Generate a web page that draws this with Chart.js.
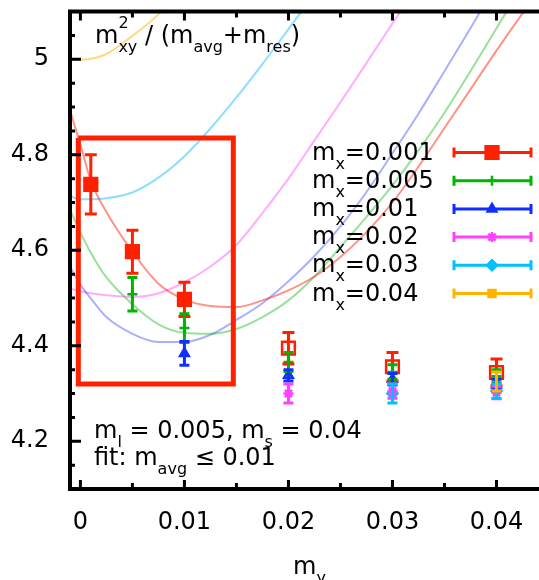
<!DOCTYPE html>
<html>
<head>
<meta charset="utf-8">
<style>
  html, body { margin: 0; padding: 0; background: #fff; overflow: hidden; }
  canvas { display: block; }
</style>
</head>
<body>
<canvas id="c" width="560" height="580"></canvas>
<script src="https://cdn.jsdelivr.net/npm/chart.js@4.4.0/dist/chart.umd.min.js"></script>
<script>
// m_y values where measurements exist (fit uses m_avg <= 0.01)
const myValues = [0.001, 0.005, 0.01, 0.02, 0.03, 0.04];
const fitLimit = 0.01;

// series: one per m_x
const seriesNames = ['0.001', '0.005', '0.01', '0.02', '0.03', '0.04'];
const seriesMx = [0.001, 0.005, 0.01, 0.02, 0.03, 0.04];
const seriesColors = ['#ff2000', '#00b400', '#1030ff', '#ff40ff', '#00c0ff', '#ffb400'];
const curveColors = ['rgba(255,40,20,0.5)', 'rgba(0,180,0,0.4)', 'rgba(40,60,255,0.4)',
                     'rgba(255,70,255,0.45)', 'rgba(0,180,255,0.45)', 'rgba(255,180,0,0.5)'];
const seriesStyles = ['rect', 'cross', 'triangle', 'star', 'rectRot', 'rect'];
const seriesRadius = [9, 5, 5, 5, 5, 5];

// measured values and errors (only m_y >= m_x)
const val001 = [4.738, 4.597, 4.497, 4.395, 4.356, 4.344];
const err001 = [0.062, 0.045, 0.036, 0.033, 0.030, 0.028];
const val005 = [4.508, 4.437, 4.366, 4.345, 4.336];
const err005 = [0.035, 0.030, 0.020, 0.015, 0.014];
const val01 = [4.384, 4.338, 4.330, 4.318];
const err01 = [0.025, 0.012, 0.012, 0.012];
const val02 = [4.300, 4.305, 4.302];
const err02 = [0.020, 0.015, 0.013];
const val03 = [4.300, 4.305];
const err03 = [0.020, 0.015];
const val04 = [4.325];
const err04 = [0.020];

const curveMy = [-0.001, 0, 0.001, 0.0025, 0.005, 0.0075, 0.01, 0.0125, 0.015, 0.0175, 0.02,
                 0.0225, 0.025, 0.0275, 0.03, 0.0325, 0.035, 0.0375, 0.04, 0.0425, 0.045];
const fit001 = [4.893, 4.821, 4.746, 4.68, 4.597, 4.53, 4.497, 4.483, 4.481, 4.495, 4.516,
                4.545, 4.586, 4.638, 4.70, 4.775, 4.856, 4.937, 5.018, 5.096, 5.175];
const fit005 = [4.685, 4.637, 4.595, 4.543, 4.487, 4.445, 4.427, 4.425, 4.435, 4.46, 4.495,
                4.545, 4.607, 4.67, 4.736, 4.809, 4.888, 4.975, 5.065, 5.154];
const fit01 = [4.566, 4.528, 4.499, 4.46, 4.425, 4.408, 4.408, 4.423, 4.454, 4.489, 4.535,
               4.588, 4.65, 4.722, 4.803, 4.886, 4.975, 5.065, 5.158];
const fit02 = [4.52, 4.514, 4.51, 4.506, 4.502, 4.51, 4.533, 4.566, 4.611, 4.678, 4.75,
               4.83, 4.91, 4.992, 5.075, 5.155];
const fit03 = [4.713, 4.707, 4.707, 4.709, 4.721, 4.752, 4.797, 4.855, 4.92, 4.99, 5.063, 5.137];
const fit04 = [4.999, 4.999, 5.001, 5.011, 5.049, 5.094, 5.156];

// highlighted fit region
const boxX = [-0.0002, 0.0147, 0.0147, -0.0002, -0.0002];
const boxY = [4.835, 4.835, 4.32, 4.32, 4.835];

const xTicks = [0, 0.01, 0.02, 0.03, 0.04];
const xTickLabels = ['0', '0.01', '0.02', '0.03', '0.04'];
const yTicks = [4.2, 4.4, 4.6, 4.8, 5.0];
const yTickLabels = ['4.2', '4.4', '4.6', '4.8', '5'];

const values = [val001, val005, val01, val02, val03, val04];
const errors = [err001, err005, err01, err02, err03, err04];
const fits = [fit001, fit005, fit01, fit02, fit03, fit04];

const datasets = [];
seriesNames.forEach((name, k) => {
  const xs = myValues.filter(v => v >= seriesMx[k] - 1e-9);
  datasets.push({
    label: 'm_x=' + name,
    data: xs.map((x, i) => ({ x: x, y: values[k][i] })),
    errs: errors[k],
    cap: k === 0 ? 6 : 5,
    showLine: false,
    pointStyle: seriesStyles[k],
    pointRadius: seriesRadius[k],
    pointBorderWidth: 2.5,
    pointBorderColor: seriesColors[k],
    pointBackgroundColor: xs.map(x => x <= fitLimit + 1e-9 ? seriesColors[k] : 'rgba(0,0,0,0)'),
    borderColor: seriesColors[k],
    order: 1
  });
});
fits.forEach((f, k) => {
  datasets.push({
    label: 'fit ' + seriesNames[k],
    data: f.map((y, i) => ({ x: curveMy[i], y: y })),
    borderColor: curveColors[k],
    borderWidth: 2,
    pointRadius: 0,
    cubicInterpolationMode: 'monotone',
    order: 3
  });
});
datasets.push({
  label: 'box',
  data: boxX.map((x, i) => ({ x: x, y: boxY[i] })),
  borderColor: '#ff2000',
  borderWidth: 5,
  borderJoinStyle: 'miter',
  pointRadius: 0,
  tension: 0,
  order: 2
});

const FONT = '"DejaVu Sans"';
const big = '24px ' + FONT, small = '16px ' + FONT;

function drawRich(ctx, x, y, parts) {
  let cx = x;
  for (const p of parts) {
    if (typeof p === 'string') {
      ctx.font = big;
      ctx.fillText(p, cx, y);
      cx += ctx.measureText(p).width;
    } else {
      ctx.font = small;
      let w = 0;
      if (p.sup) { ctx.fillText(p.sup, cx, y - 15); w = Math.max(w, ctx.measureText(p.sup).width); }
      if (p.sub) { ctx.fillText(p.sub, cx, y + 9); w = Math.max(w, ctx.measureText(p.sub).width); }
      cx += w;
    }
  }
}

const decor = {
  id: 'decor',
  afterDatasetsDraw(chart) {
    const ctx = chart.ctx, ys = chart.scales.y;
    chart.data.datasets.forEach((ds, di) => {
      if (!ds.errs) return;
      const meta = chart.getDatasetMeta(di);
      ctx.save();
      ctx.strokeStyle = ds.borderColor;
      ctx.lineWidth = 3;
      meta.data.forEach((pt, i) => {
        const top = ys.getPixelForValue(ds.data[i].y + ds.errs[i]);
        const bot = ys.getPixelForValue(ds.data[i].y - ds.errs[i]);
        ctx.beginPath();
        ctx.moveTo(pt.x, top); ctx.lineTo(pt.x, bot);
        ctx.moveTo(pt.x - ds.cap, top); ctx.lineTo(pt.x + ds.cap, top);
        ctx.moveTo(pt.x - ds.cap, bot); ctx.lineTo(pt.x + ds.cap, bot);
        ctx.stroke();
      });
      ctx.restore();
    });
  },
  afterDraw(chart) {
    const ctx = chart.ctx, a = chart.chartArea;
    const xs = chart.scales.x, ys = chart.scales.y;
    ctx.save();
    // frame
    ctx.strokeStyle = '#000';
    ctx.lineWidth = 4;
    ctx.strokeRect(a.left, a.top, a.right - a.left, a.bottom - a.top);
    // inward ticks
    ctx.lineWidth = 3;
    ctx.beginPath();
    for (let i = 0; i <= 9; i++) {
      const px = xs.getPixelForValue(i * 0.005);
      const len = i % 2 === 0 ? 9 : 6;
      ctx.moveTo(px, a.bottom); ctx.lineTo(px, a.bottom - len);
      ctx.moveTo(px, a.top); ctx.lineTo(px, a.top + len);
    }
    for (let i = 1; i < 20; i++) {
      const py = ys.getPixelForValue(4.1 + i * 0.05);
      const len = (i - 2) % 4 === 0 ? 11 : 5;
      ctx.moveTo(a.left, py); ctx.lineTo(a.left + len, py);
    }
    ctx.stroke();

    // texts
    ctx.fillStyle = '#000';
    ctx.textBaseline = 'alphabetic';
    ctx.textAlign = 'left';
    drawRich(ctx, 95, 43, ['m', { sup: '2', sub: 'xy' }, ' / (m', { sub: 'avg' }, '+m', { sub: 'res' }, ')']);
    drawRich(ctx, 94, 438, ['m', { sub: 'l' }, ' = 0.005, m', { sub: 's' }, ' = 0.04']);
    drawRich(ctx, 94, 465, ['fit: m', { sub: 'avg' }, ' \u2264 0.01']);
    drawRich(ctx, 293, 574, ['m', { sub: 'y' }]);

    // legend
    seriesNames.forEach((name, k) => {
      const ry = 152.5 + k * 28.2;
      ctx.fillStyle = '#000';
      drawRich(ctx, 312, ry + 7, ['m', { sub: 'x' }, '=' + name]);
      ctx.strokeStyle = seriesColors[k];
      ctx.fillStyle = seriesColors[k];
      ctx.lineWidth = 3;
      ctx.beginPath();
      ctx.moveTo(454, ry); ctx.lineTo(531, ry);
      ctx.moveTo(454, ry - 5); ctx.lineTo(454, ry + 5);
      ctx.moveTo(531, ry - 5); ctx.lineTo(531, ry + 5);
      ctx.stroke();
      ctx.lineWidth = 2.5;
      Chart.helpers.drawPoint(ctx, { pointStyle: seriesStyles[k], radius: seriesRadius[k], rotation: 0, borderWidth: 2.5 }, 492, ry);
    });
    ctx.restore();
  }
};

new Chart(document.getElementById('c'), {
  type: 'line',
  data: { datasets: datasets },
  options: {
    responsive: false,
    animation: false,
    devicePixelRatio: 1,
    events: [],
    layout: { padding: { top: 8, right: 9, left: 0, bottom: 0 } },
    plugins: { legend: { display: false }, tooltip: { enabled: false } },
    scales: {
      x: {
        type: 'linear',
        min: -0.001,
        max: 0.045,
        grid: { display: false },
        border: { display: false },
        afterBuildTicks: s => { s.ticks = xTicks.map(v => ({ value: v })); },
        afterFit: s => { s.height = 91; s.paddingLeft = 0; s.paddingRight = 0; },
        ticks: {
          padding: 11,
          maxRotation: 0,
          color: '#000',
          font: { family: 'DejaVu Sans', size: 24 },
          callback: (v, i) => xTickLabels[i]
        }
      },
      y: {
        type: 'linear',
        min: 4.1,
        max: 5.1,
        grid: { display: false },
        border: { display: false },
        afterBuildTicks: s => { s.ticks = yTicks.map(v => ({ value: v })); },
        afterFit: s => { s.width = 70; s.paddingTop = 0; s.paddingBottom = 0; },
        ticks: {
          padding: 13,
          color: '#000',
          font: { family: 'DejaVu Sans', size: 24 },
          callback: (v, i) => yTickLabels[i]
        }
      }
    }
  },
  plugins: [decor]
});
</script>
</body>
</html>
